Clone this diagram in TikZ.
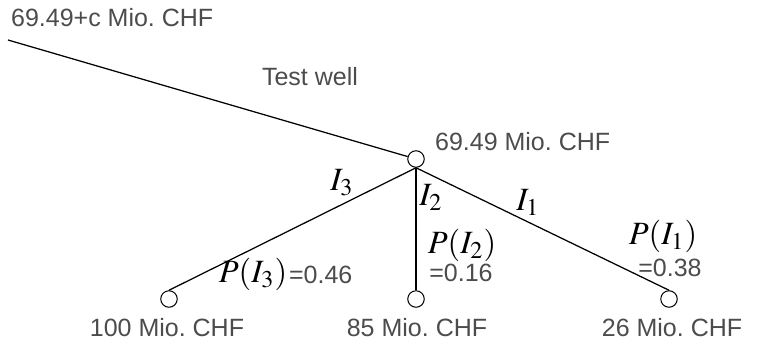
\documentclass[tikz,border=0pt]{standalone}
\usepackage{mathptmx}
\usepackage{fontspec}
\setmainfont{Liberation Sans}
\usetikzlibrary{positioning}
\frenchspacing

\begin{document}
\begin{tikzpicture}[
  x=0.4pt, y=-0.4pt,
  chance/.style={circle, draw, fill=white, inner sep=0pt, minimum size=6.6pt, line width=0.4pt},
  value/.style={text=black!70, font=\fontsize{10}{12}\selectfont, inner sep=1pt},
  branch/.style={font=\fontsize{13}{15}\selectfont, inner sep=0pt},
  line width=0.5pt,
]
  \useasboundingbox (0,0) rectangle (766,347);

  % decision on the left, chance node in the middle
  \coordinate (start) at (8,40);
  \node[chance] (root) at (416,159) {};
  \node[chance] (leftleaf) at (169,299) {};
  \node[chance] (midleaf) at (416,299) {};
  \node[chance] (rightleaf) at (669,299) {};

  \node[value, anchor=west] (startval) at (8,18) {69.49+c Mio. CHF};
  \node[value] (testwell) at (310,77) {Test well};
  \node[value, anchor=west] (rootval) at (432,142) {69.49 Mio. CHF};
  \node[value] (leftval) at (167,328) {100 Mio. CHF};
  \node[value] (midval) at (417,328) {85 Mio. CHF};
  \node[value] (rightval) at (672,328) {26 Mio. CHF};

  \draw (start) -- (root);
  \draw (root.south) -- (leftleaf.north);
  \draw (root.south) -- (midleaf.north);
  \draw (root.south) -- (rightleaf.north);

  % outcomes and their probabilities
  \node[branch] (ithree) at (342,183) {$I_3$};
  \node[branch] (itwo) at (431,197) {$I_2$};
  \node[branch] (ione) at (528,202) {$I_1$};

  \node[branch] (pthree) at (253,274) {$P(I_3)$};
  \node[value, anchor=west] (pthreeval) at (286,275) {=0.46};
  \node[branch] (ptwo) at (462,245) {$P(I_2)$};
  \node[value] (ptwoval) at (461,273) {=0.16};
  \node[branch] (pone) at (663,236) {$P(I_1)$};
  \node[value] (poneval) at (670,268) {=0.38};
\end{tikzpicture}
\end{document}
